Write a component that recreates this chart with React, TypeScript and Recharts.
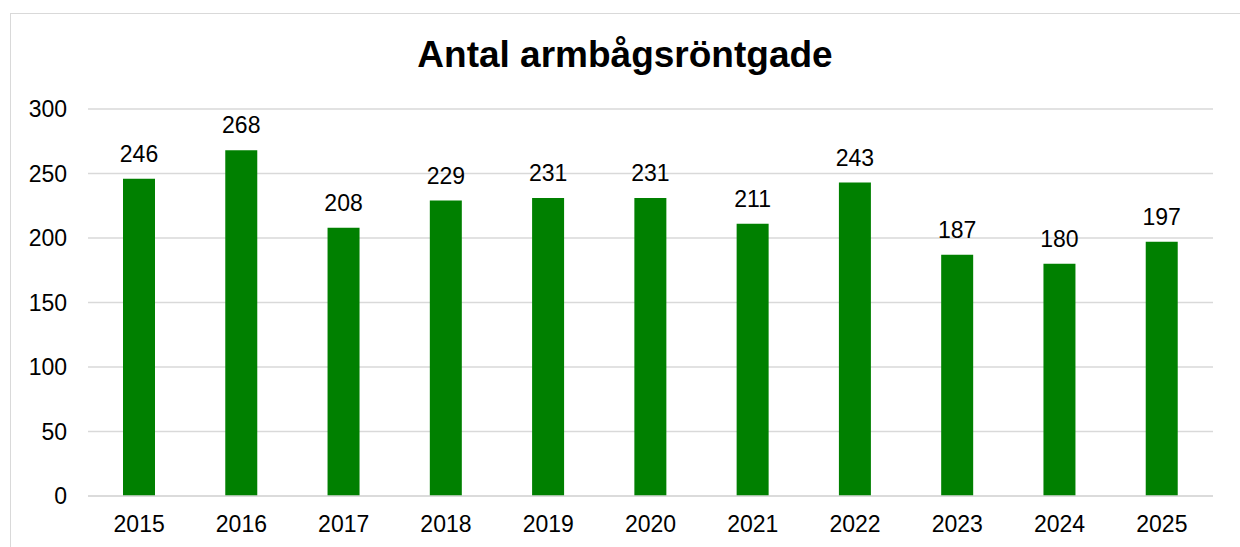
import { Bar, BarChart, CartesianGrid, LabelList, XAxis, YAxis } from "recharts";

const years = ["2015", "2016", "2017", "2018", "2019", "2020", "2021", "2022", "2023", "2024", "2025"];
const counts = [246, 268, 208, 229, 231, 231, 211, 243, 187, 180, 197];
const yTicks = [0, 50, 100, 150, 200, 250, 300];

const data = years.map((year, i) => ({ year, antal: counts[i] }));

const font = "'Liberation Sans', Arial, sans-serif";

const ValueLabel = (props: any) => {
  const { x, y, width, value } = props;
  return (
    <text
      x={Number(x) + Number(width) / 2}
      y={Number(y) - 17}
      textAnchor="middle"
      fontSize={23}
      fontFamily={font}
      fill="#000"
    >
      {value}
    </text>
  );
};

const App = () => {
  return (
    <div
      style={{
        position: "fixed",
        left: 0,
        top: 0,
        width: 1240,
        height: 547,
        overflow: "hidden",
        background: "#fff",
        fontFamily: font,
      }}
    >
      <div
        style={{
          position: "absolute",
          left: 10,
          top: 13,
          width: 1300,
          height: 600,
          border: "1.5px solid #d9d9d9",
        }}
      />
      <svg style={{ position: "absolute", left: 0, top: 0 }} width={1240} height={90}>
        <text
          x={625}
          y={67}
          textAnchor="middle"
          fontSize={37}
          fontWeight="bold"
          fontFamily={font}
          fill="#000"
        >
          Antal armbågsröntgade
        </text>
      </svg>
      <div style={{ position: "absolute", left: 0, top: 0 }}>
        <BarChart
          width={1240}
          height={547}
          data={data}
          margin={{ top: 109, right: 27, left: 28, bottom: 0 }}
          barSize={32}
        >
          <CartesianGrid vertical={false} stroke="#d9d9d9" strokeWidth={1.5} />
          <XAxis
            dataKey="year"
            tickLine={false}
            tickSize={0}
            tickMargin={20}
            axisLine={{ stroke: "#d9d9d9", strokeWidth: 1.5 }}
            tick={{ fill: "#000", fontSize: 23, fontFamily: font }}
            height={51}
          />
          <YAxis
            width={60}
            domain={[0, 300]}
            ticks={yTicks}
            tickLine={false}
            tickSize={0}
            tickMargin={21}
            axisLine={false}
            tick={{ fill: "#000", fontSize: 23, fontFamily: font }}
          />
          <Bar dataKey="antal" fill="#008000" isAnimationActive={false}>
            <LabelList dataKey="antal" content={ValueLabel} />
          </Bar>
        </BarChart>
      </div>
    </div>
  );
};

export default App;
